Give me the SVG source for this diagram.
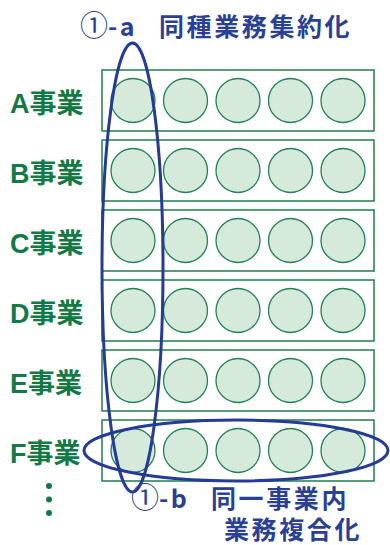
<svg xmlns="http://www.w3.org/2000/svg" width="390" height="545" viewBox="0 0 390 545">
<style>
.row rect{fill:#fff;stroke:#2e8558;stroke-width:1.6}
.row circle{fill:#d6eadc;stroke:#23805a;stroke-width:1.3}
.lbl{font-family:"Liberation Sans","Noto Sans CJK JP",sans-serif;font-weight:bold;font-size:27px;fill:#127a45}
.blue{font-family:"Noto Sans CJK JP","Liberation Sans",sans-serif;font-weight:bold;font-size:25px;fill:#2a3f96;letter-spacing:2.6px}
.num{font-family:"Noto Sans CJK JP",sans-serif;font-weight:normal;font-size:28px;letter-spacing:0}
.ell{fill:none;stroke:#243b97;stroke-width:3}
</style>
<rect width="390" height="545" fill="#fff"/>
<defs>
<g id="rowShape" class="row">
<rect x="102" y="0" width="272" height="61"/>
<circle cx="133" cy="30.5" r="22"/>
<circle cx="185.5" cy="30.5" r="22"/>
<circle cx="238" cy="30.5" r="22"/>
<circle cx="290.5" cy="30.5" r="22"/>
<circle cx="343" cy="30.5" r="22"/>
</g>
</defs>
<g id="rowA"><use href="#rowShape" y="70"/><text class="lbl" x="10" y="113">A事業</text></g>
<g id="rowB"><use href="#rowShape" y="140"/><text class="lbl" x="10" y="183">B事業</text></g>
<g id="rowC"><use href="#rowShape" y="210"/><text class="lbl" x="10" y="253">C事業</text></g>
<g id="rowD"><use href="#rowShape" y="280"/><text class="lbl" x="10" y="323">D事業</text></g>
<g id="rowE"><use href="#rowShape" y="350"/><text class="lbl" x="10" y="393">E事業</text></g>
<g id="rowF"><use href="#rowShape" y="420"/><text class="lbl" x="10" y="463">F事業</text></g>
<g id="dots" fill="#127a45">
<circle cx="49" cy="486" r="3"/>
<circle cx="49" cy="499.5" r="3"/>
<circle cx="49" cy="513" r="3"/>
</g>
<g id="connectors">
<ellipse class="ell" cx="132.5" cy="267.5" rx="30.5" ry="224.5"/>
<ellipse class="ell" cx="236" cy="450.5" rx="152" ry="30.5"/>
</g>
<g id="labelA"><text class="blue" x="80" y="36"><tspan class="num">①</tspan><tspan x="108">-a</tspan><tspan x="159">同種業務集約化</tspan></text></g>
<g id="labelB"><text class="blue" x="131" y="508"><tspan class="num">①</tspan><tspan x="159">-b</tspan><tspan x="211">同一事業内</tspan></text>
<text class="blue" x="224" y="539">業務複合化</text></g>
</svg>
